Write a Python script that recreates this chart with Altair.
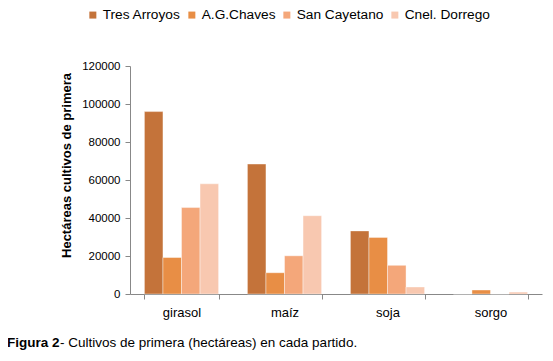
import altair as alt
import pandas as pd

cultivos = ["girasol", "maíz", "soja", "sorgo"]
partidos = ["Tres Arroyos", "A.G.Chaves", "San Cayetano", "Cnel. Dorrego"]
tres_arroyos = [96000, 68400, 33200, 0]
ag_chaves = [19200, 11200, 29800, 2100]
san_cayetano = [45500, 20100, 15100, 0]
cnel_dorrego = [58000, 41200, 3700, 1000]
colores = ["#C4733A", "#E88E45", "#F4A77A", "#F8C8B0"]
y_ticks = [0, 20000, 40000, 60000, 80000, 100000, 120000]

rows = []
for serie, vals in zip(partidos, [tres_arroyos, ag_chaves, san_cayetano, cnel_dorrego]):
    for c, v in zip(cultivos, vals):
        rows.append({"cultivo": c, "partido": serie, "valor": v})
df = pd.DataFrame(rows)

FONT = "Liberation Sans"

bars = alt.Chart(df).mark_bar(stroke="white", strokeWidth=0.4).encode(
    x=alt.X("cultivo:N", sort=cultivos,
            scale=alt.Scale(paddingInner=0.28, paddingOuter=0.14),
            axis=alt.Axis(title=None, labelAngle=0, labelFont=FONT, labelFontSize=13,
                          labelColor="#000000", labelPadding=7, tickBand="extent",
                          tickSize=5, tickColor="#888888", domainColor="#888888")),
    xOffset=alt.XOffset("partido:N", sort=partidos),
    y=alt.Y("valor:Q", scale=alt.Scale(domain=[0, 120000]),
            axis=alt.Axis(values=y_ticks, format="d", grid=False,
                          title="Hectáreas cultivos de primera",
                          titleFont=FONT, titleFontSize=13, titleFontWeight="bold",
                          titleColor="#000000", titleX=-57, titleY=99,
                          titleAngle=-90, titleBaseline="bottom", titleAlign="center",
                          labelFont=FONT, labelFontSize=11.5, labelColor="#000000",
                          labelPadding=5, tickSize=5, tickColor="#888888",
                          domainColor="#888888")),
    color=alt.Color("partido:N", sort=partidos,
                    scale=alt.Scale(domain=partidos, range=colores),
                    legend=alt.Legend(title=None, orient="none", direction="horizontal",
                                      legendX=-44, legendY=-58, symbolType="square",
                                      symbolSize=49, symbolStrokeWidth=0,
                                      labelFont=FONT, labelFontSize=13.7,
                                      labelColor="#000000", labelOffset=3,
                                      columnPadding=4, padding=0)),
)

cap_df = pd.DataFrame({"a": [1]})
cap1 = alt.Chart(cap_df).mark_text(
    text="Figura 2", font=FONT, fontSize=13.5, fontWeight="bold",
    align="left", baseline="alphabetic", color="#000000"
).encode(x=alt.value(-123), y=alt.value(281))
cap2 = alt.Chart(cap_df).mark_text(
    text="- Cultivos de primera (hectáreas) en cada partido.", font=FONT, fontSize=13.5,
    align="left", baseline="alphabetic", color="#000000"
).encode(x=alt.value(-70), y=alt.value(281))

chart = alt.layer(bars, cap1, cap2).properties(
    width=412, height=228,
    autosize=alt.AutoSizeParams(type="none"),
    padding={"left": 122, "top": 58, "right": 3, "bottom": 60},
).configure_view(stroke=None)

chart.save("out.html", embed_options={"renderer": "svg", "actions": False})
